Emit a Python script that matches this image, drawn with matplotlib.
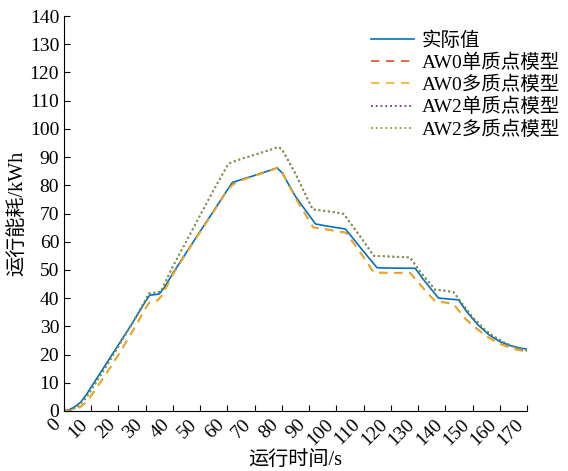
import numpy as np
import matplotlib.pyplot as plt

plt.rcParams['font.family'] = ['Liberation Serif', 'Noto Sans CJK SC']
plt.rcParams['axes.unicode_minus'] = False

# actual measured energy
t_actual = [0, 2, 4, 6, 8, 10, 15, 20, 25, 30, 31.5, 33, 35, 37, 40, 45, 50, 55, 60, 61.8,
            65, 70, 75, 78.3, 80, 85, 92.3, 95, 100, 103.3, 110, 114.9, 117, 125, 128.9,
            132, 137.5, 140, 144.8, 148, 152, 156, 160, 164, 167, 170]
e_actual = [0, 0.5, 1.5, 3, 5.5, 8.5, 16, 23.5, 31, 39, 41.1, 41.2, 41.5, 44, 48.9, 56.3,
            63.7, 71.0, 78.4, 81, 82, 83.5, 85.1, 86.1, 84.5, 76, 66.3, 65.8, 65, 64.5,
            56.5, 50.8, 50.7, 50.6, 50.6, 46.5, 40.0, 39.8, 39.4, 35, 30.5, 27, 24.6, 23.1,
            22.4, 21.9]

# AW0 models
t_aw0 = [0, 4, 6, 8, 10, 15, 20, 25, 30, 31.6, 34.3, 36, 40, 45, 50, 55, 60, 62, 65, 70,
         75, 78.5, 80, 85, 91.5, 95, 100, 103.5, 110, 113.7, 120, 127, 131, 136.3, 140,
         143, 147, 150, 155, 160, 165, 170]
e_aw0_single = [0, 0.5, 1.5, 3, 5.5, 12.5, 20, 28, 36.5, 38.9, 39.2, 41, 48.5, 56.1, 63.5,
                70.8, 78.3, 80.3, 81.8, 83.4, 85, 86.3, 84.8, 75.5, 65.1, 64.6, 63.8, 63.2,
                54.5, 49.1, 49.0, 49.0, 44.5, 38.8, 38.5, 37.9, 33, 30.4, 26.5, 23.8, 22.0,
                21.1]
e_aw0_multi = [0, 0.4, 1.4, 2.9, 5.4, 12.4, 19.9, 27.9, 36.4, 38.8, 39.1, 40.9, 48.4, 56.0,
               63.4, 70.7, 78.2, 80.2, 81.7, 83.3, 84.9, 86.2, 84.7, 75.4, 65.0, 64.5, 63.7,
               63.1, 54.4, 49.0, 48.9, 48.9, 44.4, 38.7, 38.4, 37.8, 32.9, 30.3, 26.4, 23.7,
               21.9, 21.0]

# AW2 models
t_aw2 = [0, 2, 4, 6, 8, 10, 15, 20, 25, 30, 31, 33, 35.5, 40, 45, 50, 55, 60, 61, 65, 70,
         75, 78.5, 80, 85, 91.3, 95, 100, 102.7, 108, 113.7, 120, 127, 131, 136.3, 140, 143,
         147, 150, 155, 158, 162, 166, 170]
e_aw2_single = [0, 0.3, 1, 2.5, 4.5, 7.5, 15, 23, 31, 39.5, 41.6, 41.9, 42.3, 51.3, 60.3,
                69.4, 78.4, 87.0, 87.9, 89.3, 90.8, 92.3, 93.5, 92.8, 84, 71.4, 71, 70.3,
                69.8, 62.8, 55, 54.7, 54.4, 49, 42.9, 42.6, 42.1, 37, 33.2, 28.3, 26.3, 24,
                22.5, 21.3]
e_aw2_multi = [0, 0.3, 1, 2.5, 4.5, 7.5, 15, 23, 31, 39.5, 41.7, 42.0, 42.4, 51.4, 60.4,
               69.5, 78.5, 87.1, 88.0, 89.4, 90.9, 92.4, 93.6, 92.9, 84.1, 71.5, 71.1, 70.4,
               69.9, 62.9, 55.1, 54.8, 54.5, 49.1, 43.0, 42.7, 42.2, 37.1, 33.3, 28.4, 26.4,
               24.1, 22.6, 21.4]

labels = ['实际值', 'AW0单质点模型', 'AW0多质点模型', 'AW2单质点模型', 'AW2多质点模型']
colors = ['#0072BD', '#D95319', '#EDB120', '#7E2F8E', '#77AC30']

fig = plt.figure(figsize=(5.68, 4.71), dpi=100)
ax = fig.add_axes([0.1127, 0.1274, 0.8153, 0.8386])

ax.plot(t_actual, e_actual, '-', color=colors[0], lw=1.2, label=labels[0])
ax.plot(t_aw0, e_aw0_single, '--', color=colors[1], lw=1.2, dashes=(5, 4), label=labels[1])
ax.plot(t_aw0, e_aw0_multi, '--', color=colors[2], lw=1.2, dashes=(5, 4), label=labels[2])
ax.plot(t_aw2, e_aw2_single, ':', color=colors[3], lw=1.3, label=labels[3])
ax.plot(t_aw2, e_aw2_multi, ':', color=colors[4], lw=1.3, label=labels[4])

ax.set_xlim(0, 170)
ax.set_ylim(0, 140)
ax.set_xticks(np.arange(0, 171, 10))
ax.set_yticks(np.arange(0, 141, 10))
ax.tick_params(direction='in', labelsize=14, length=4, width=0.8)
for lbl in ax.get_xticklabels():
    lbl.set_rotation(45)
    lbl.set_ha('right')
ax.spines['top'].set_visible(False)
ax.spines['right'].set_visible(False)

ax.set_xlabel('运行时间/s', fontsize=14.5, labelpad=2)
ax.set_ylabel('运行能耗/kWh', fontsize=14.5, labelpad=1)

ax.legend(loc='upper right', bbox_to_anchor=(1.0, 0.95), bbox_transform=fig.transFigure,
          frameon=False, fontsize=14, handlelength=2.2, labelspacing=0.2,
          handletextpad=0.4, borderaxespad=0)

fig.savefig('out.png', dpi=100)
